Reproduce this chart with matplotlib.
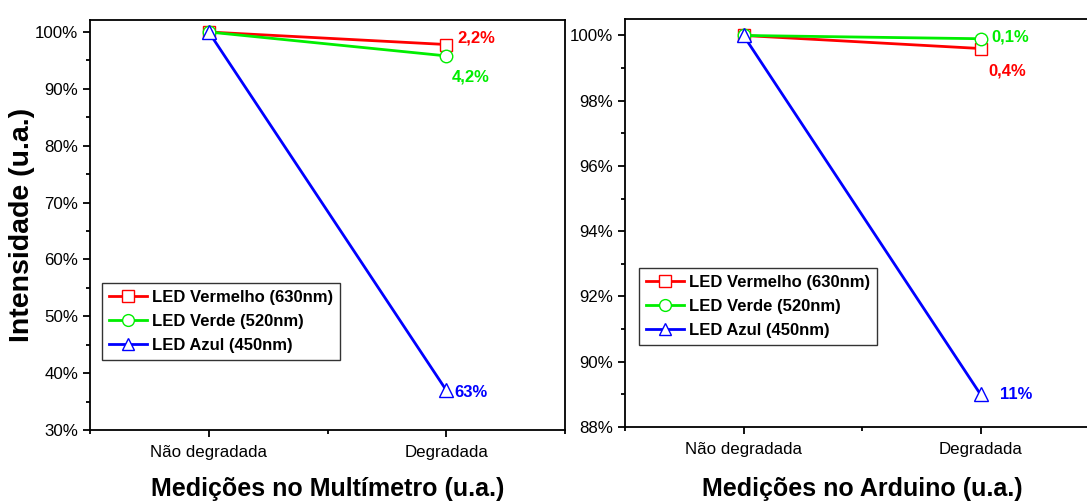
import matplotlib
matplotlib.use("Agg")
import matplotlib.pyplot as plt
from matplotlib.ticker import MultipleLocator, FuncFormatter

plt.rcParams['font.family'] = ['Liberation Sans', 'DejaVu Sans']

stages = ["Não degradada", "Degradada"]
series_names = ["LED Vermelho (630nm)", "LED Verde (520nm)", "LED Azul (450nm)"]
colors = ["#ff0000", "#00ee00", "#0000ff"]
markers = ["s", "o", "^"]
marker_sizes = [8, 9, 9.5]

# Relative intensity (%) measured with the multimeter
multimeter = [[100.0, 97.8], [100.0, 95.8], [100.0, 37.0]]
multimeter_drop = ["2,2%", "4,2%", "63%"]

# Relative intensity (%) measured with the Arduino
arduino = [[100.0, 99.6], [100.0, 99.9], [100.0, 89.0]]
arduino_drop = ["0,4%", "0,1%", "11%"]

fig = plt.figure(figsize=(10.87, 5.01), dpi=100)
W, H = 1087, 501

def px_axes(x0, x1, ytop, ybot):
    return fig.add_axes([x0 / W, 1 - ybot / H, (x1 - x0) / W, (ybot - ytop) / H])

ax1 = px_axes(90, 565, 19.5, 430)
ax2 = px_axes(625, 1099, 18.5, 427)

pct = FuncFormatter(lambda v, p: f"{v:.0f}%")

def draw(ax, data, names):
    xs = list(range(len(stages)))
    for vals, c, m, ms, n in zip(data, colors, markers, marker_sizes, names):
        ax.plot(xs, vals, color=c, lw=2, marker=m, ms=ms, mfc="white",
                mec=c, mew=1.0, label=n)
    ax.set_xlim(-0.5, 1.5)
    ax.set_xticks(xs)
    ax.set_xticklabels(stages)
    ax.xaxis.set_minor_locator(MultipleLocator(0.5))
    ax.yaxis.set_major_formatter(pct)
    for s in ax.spines.values():
        s.set_linewidth(1.3)
    ax.tick_params(which="both", direction="out", width=1.3, labelsize=12.2,
                   top=False, right=False)
    ax.tick_params(which="major", length=5)
    ax.tick_params(which="minor", length=3)
    ax.tick_params(axis="x", pad=6)

draw(ax1, multimeter, series_names)
ax1.set_ylim(30, 102.2)
ax1.yaxis.set_major_locator(MultipleLocator(10))
ax1.yaxis.set_minor_locator(MultipleLocator(5))
ax1.set_ylabel("Intensidade (u.a.)", fontsize=20.5, fontweight="bold")
ax1.yaxis.set_label_coords(-0.116, 0.5)
ax1.set_xlabel("Medições no Multímetro (u.a.)", fontsize=18, fontweight="bold")
ax1.xaxis.set_label_coords(0.5, -0.1145)

draw(ax2, arduino, series_names)
ax2.set_ylim(88, 100.52)
ax2.yaxis.set_major_locator(MultipleLocator(2))
ax2.yaxis.set_minor_locator(MultipleLocator(1))
ax2.set_xlabel("Medições no Arduino (u.a.)", fontsize=18, fontweight="bold")
ax2.xaxis.set_label_coords(0.5, -0.1224)

lab = dict(fontsize=12, fontweight="bold", va="center",
           textcoords="offset points")
# multimeter annotations
ax1.annotate(multimeter_drop[0], (1, multimeter[0][1]), xytext=(8, 5),
             color=colors[0], **lab)
ax1.annotate(multimeter_drop[1], (1, multimeter[1][1]), xytext=(4, -15),
             color=colors[1], **lab)
ax1.annotate(multimeter_drop[2], (1, multimeter[2][1]), xytext=(6, -2),
             color=colors[2], **lab)
# arduino annotations
ax2.annotate(arduino_drop[0], (1, arduino[0][1]), xytext=(5.5, -16),
             color=colors[0], **lab)
ax2.annotate(arduino_drop[1], (1, arduino[1][1]), xytext=(8, 1),
             color=colors[1], **lab)
ax2.annotate(arduino_drop[2], (1, arduino[2][1]), xytext=(14, 0),
             color=colors[2], **lab)

for ax, anchor in ((ax1, (102, 283)), (ax2, (639, 268))):
    leg = ax.legend(loc="upper left",
                    bbox_to_anchor=(anchor[0] / W, 1 - anchor[1] / H),
                    bbox_transform=fig.transFigure,
                    prop=dict(size=12, weight="bold"), frameon=True,
                    fancybox=False, edgecolor="black", borderpad=0.4,
                    handlelength=2.3, handletextpad=0.3, labelspacing=0.55,
                    borderaxespad=0)
    leg.get_frame().set_linewidth(1.0)
    for h in leg.get_lines():
        h.set_markersize(8.5)

fig.savefig("out.png", dpi=100)
